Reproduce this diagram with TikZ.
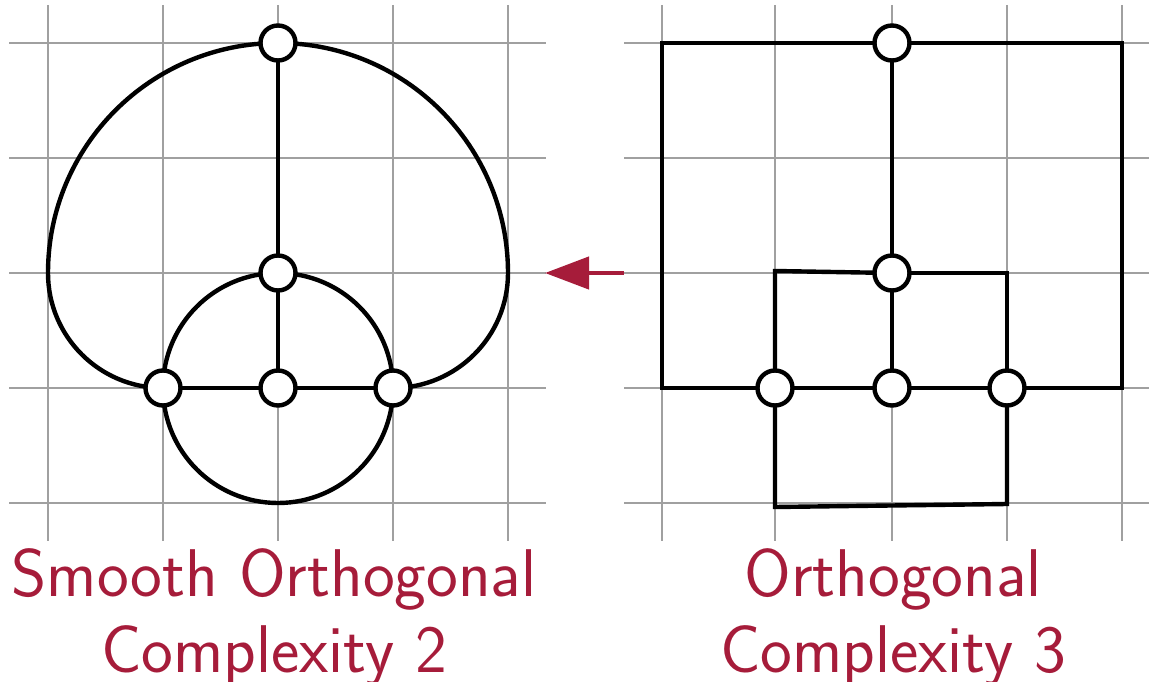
\documentclass[tikz,border=0pt]{standalone}
\usepackage{fontspec}
\usetikzlibrary{arrows.meta}
\definecolor{labred}{RGB}{166,28,58}
\definecolor{gridgray}{RGB}{160,160,160}
\begin{document}
\begin{tikzpicture}[x=1pt,y=-1pt,
  gridline/.style={gridgray,line width=2pt},
  edge/.style={black,line width=4.4pt},
  vertex/.style={circle,draw=black,line width=4.4pt,fill=white,minimum size=35pt,inner sep=0pt},
  label/.style={labred,align=center,font=\sffamily\fontsize{67.5}{76}\selectfont,inner sep=0pt},
  redarrow/.style={labred,line width=4.4pt,-{Triangle[length=44pt,width=32pt]}}]
\useasboundingbox (0,0) rectangle (1149,682);
% grids
\foreach \y in {43,158,273,388,503} {
  \draw[gridline] (9,\y) -- (546,\y);
  \draw[gridline] (624,\y) -- (1160,\y);
}
\foreach \x in {48,163,278,393,508,662,775,892,1007,1122} {
  \draw[gridline] (\x,5) -- (\x,541);
}
% left coordinates
\coordinate (lt) at (278,43);
\coordinate (lm) at (278,273);
\coordinate (lbl) at (163,388);
\coordinate (lbc) at (278,388);
\coordinate (lbr) at (393,388);
% left edges
\draw[edge] (lt) -- (lm) -- (lbc);
\draw[edge] (lbl) -- (lbc) -- (lbr);
\draw[edge] (lm) arc[start angle=270,end angle=180,radius=115];
\draw[edge] (lm) arc[start angle=270,end angle=360,radius=115];
\draw[edge] (lbl) arc[start angle=180,end angle=0,radius=115];
\draw[edge] (lt) arc[start angle=270,end angle=180,radius=230] arc[start angle=180,end angle=90,radius=115];
\draw[edge] (lt) arc[start angle=270,end angle=360,radius=230] arc[start angle=0,end angle=90,radius=115];
% left vertices
\foreach \c in {lt,lm,lbl,lbc,lbr} \node[vertex] (v\c) at (\c) {};
% right coordinates
\coordinate (rt) at (892,43);
\coordinate (rm) at (892,273);
\coordinate (rbl) at (775,388);
\coordinate (rbc) at (892,388);
\coordinate (rbr) at (1007,388);
% right edges
\draw[edge] (rt) -| (662,388) -- (rbl);
\draw[edge] (rt) -| (1122,388) -- (rbr);
\draw[edge] (rt) -- (rm) -- (rbc);
\draw[edge] (rbl) -- (rbc) -- (rbr);
\draw[edge] (rm) -- (775,271) -- (rbl);
\draw[edge] (rm) -| (rbr);
\draw[edge] (rbl) -- (775,507) -- (1007,504) -- (rbr);
% right vertices
\foreach \c in {rt,rm,rbl,rbc,rbr} \node[vertex] (v\c) at (\c) {};
% arrow
\coordinate (as) at (624,273);
\coordinate (ae) at (545,273);
\draw[redarrow] (as) -- (ae);
% labels
\node[label,anchor=base] (l1) at (274,672) {Smooth Orthogonal\\Complexity 2};
\node[label,anchor=base] (l2) at (893,672) {Orthogonal\\Complexity 3};
\end{tikzpicture}
\end{document}
